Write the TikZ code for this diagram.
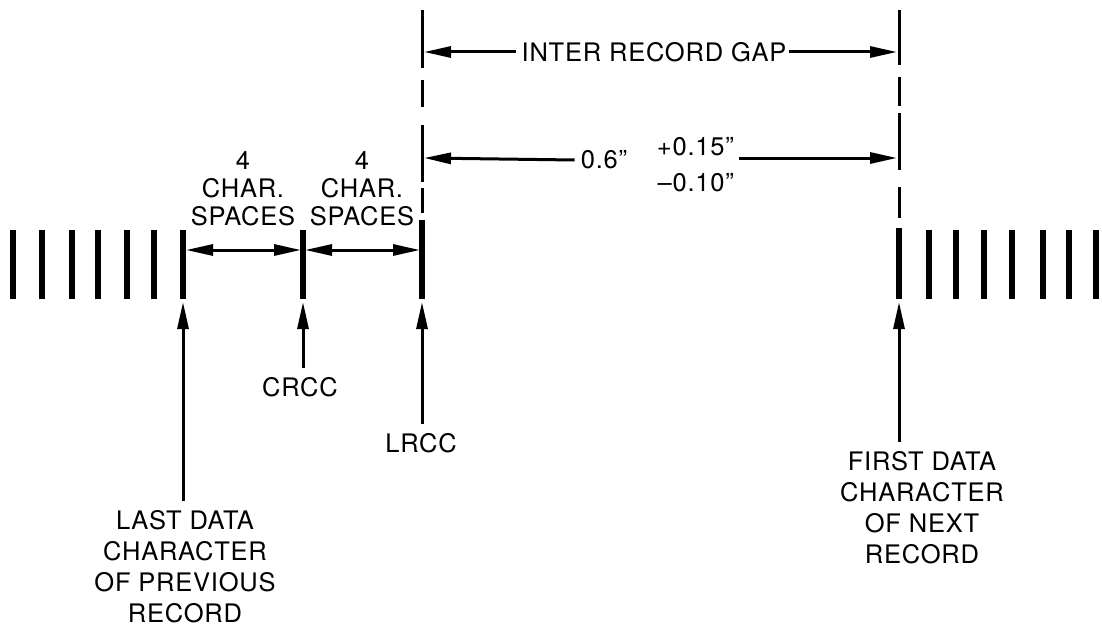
\documentclass[tikz,border=0pt]{standalone}
\usepackage{fontspec}
\setmainfont{TeX Gyre Heros}[LetterSpace=3]
\usetikzlibrary{arrows.meta}
\tikzset{
  lbl/.style={font=\fontsize{25.5}{31}\selectfont, align=center, inner sep=0pt},
  bar/.style={line width=5.5pt},
  gapline/.style={line width=3pt},
  head/.tip={Triangle[length=27pt,width=11pt]},
  shaft/.style={line width=3pt, -head},
  dbl/.style={line width=3pt, head-head},
}
\begin{document}
\begin{tikzpicture}[x=1pt,y=-1pt]
\fill[white] (0,0) rectangle (1102,634);
\useasboundingbox (0,0) rectangle (1102,634);

% record bars, previous record
\foreach \x in {13,42,72,98,127,154} \draw[bar] (\x,230) -- (\x,299);
% next record
\foreach \x in {929,956,984,1012,1043,1069,1096} \draw[bar] (\x,230) -- (\x,299);

% named character positions
\coordinate (last) at (183,302);
\coordinate (crcc) at (303,302);
\coordinate (lrcc) at (422,302);
\coordinate (first) at (899,302);
\draw[bar] (183,230) -- (183,299);
\draw[bar] (303,230) -- (303,299);
\draw[bar] (422,220) -- (422,299);
\draw[bar] (899,228) -- (899,299);

% broken extension lines
\foreach \a/\b in {10/68,80/107,125/182,188/213} \draw[gapline] (422,\a) -- (422,\b);
\foreach \a/\b in {10/65,77/106,113/170,187/218} \draw[gapline] (899,\a) -- (899,\b);

% arrow tip coordinates on extension lines
\coordinate (gL) at (424,52);
\coordinate (gR) at (897,52);
\coordinate (sL) at (424,158);
\coordinate (sR) at (897,158);
\coordinate (c1L) at (186,250);
\coordinate (c1R) at (301,250);
\coordinate (c2L) at (305,250);
\coordinate (c2R) at (420,250);

% inter record gap
\node[lbl] (gap) at (654,52) {INTER RECORD GAP};
\draw[shaft] ([xshift=-6pt]gap.west) -- (gL);
\draw[shaft] ([xshift=2pt]gap.east) -- (gR);

% 0.6 inch dimension
\node[lbl] (n06) at (604,160) {0.6\textquotedblright};
\node[lbl, anchor=east] (tolp) at (734,147) {+0.15\textquotedblright};
\node[lbl, anchor=east] (tolm) at (734,183) {--0.10\textquotedblright};
\draw[shaft] ([xshift=-6pt]n06.west) -- (sL);
\draw[shaft] ([xshift=5pt]tolp.east|-sR) -- (sR);

% 4 char spaces
\node[lbl, anchor=north, font=\fontsize{25.5}{28}\selectfont] (cs1) at (243,151) {4\\CHAR.\\SPACES};
\node[lbl, anchor=north, font=\fontsize{25.5}{28}\selectfont] (cs2) at (362,151) {4\\CHAR.\\SPACES};
\draw[dbl] (c1L) -- (c1R);
\draw[dbl] (c2L) -- (c2R);

% labels with pointers
\node[lbl, anchor=north] (lastlbl) at (185,510) {LAST DATA\\CHARACTER\\OF PREVIOUS\\RECORD};
\node[lbl] (crcclbl) at (300,387) {CRCC};
\node[lbl] (lrcclbl) at (421,443) {LRCC};
\node[lbl, anchor=north] (firstlbl) at (922,451) {FIRST DATA\\CHARACTER\\OF NEXT\\RECORD};

\draw[shaft] ([yshift=9pt]lastlbl.north -| last) -- (last);
\draw[shaft] ([yshift=9pt]crcclbl.north -| crcc) -- (crcc);
\draw[shaft] ([yshift=9pt]lrcclbl.north -| lrcc) -- (lrcc);
\draw[shaft] ([yshift=9pt]firstlbl.north -| first) -- (first);
\end{tikzpicture}
\end{document}
